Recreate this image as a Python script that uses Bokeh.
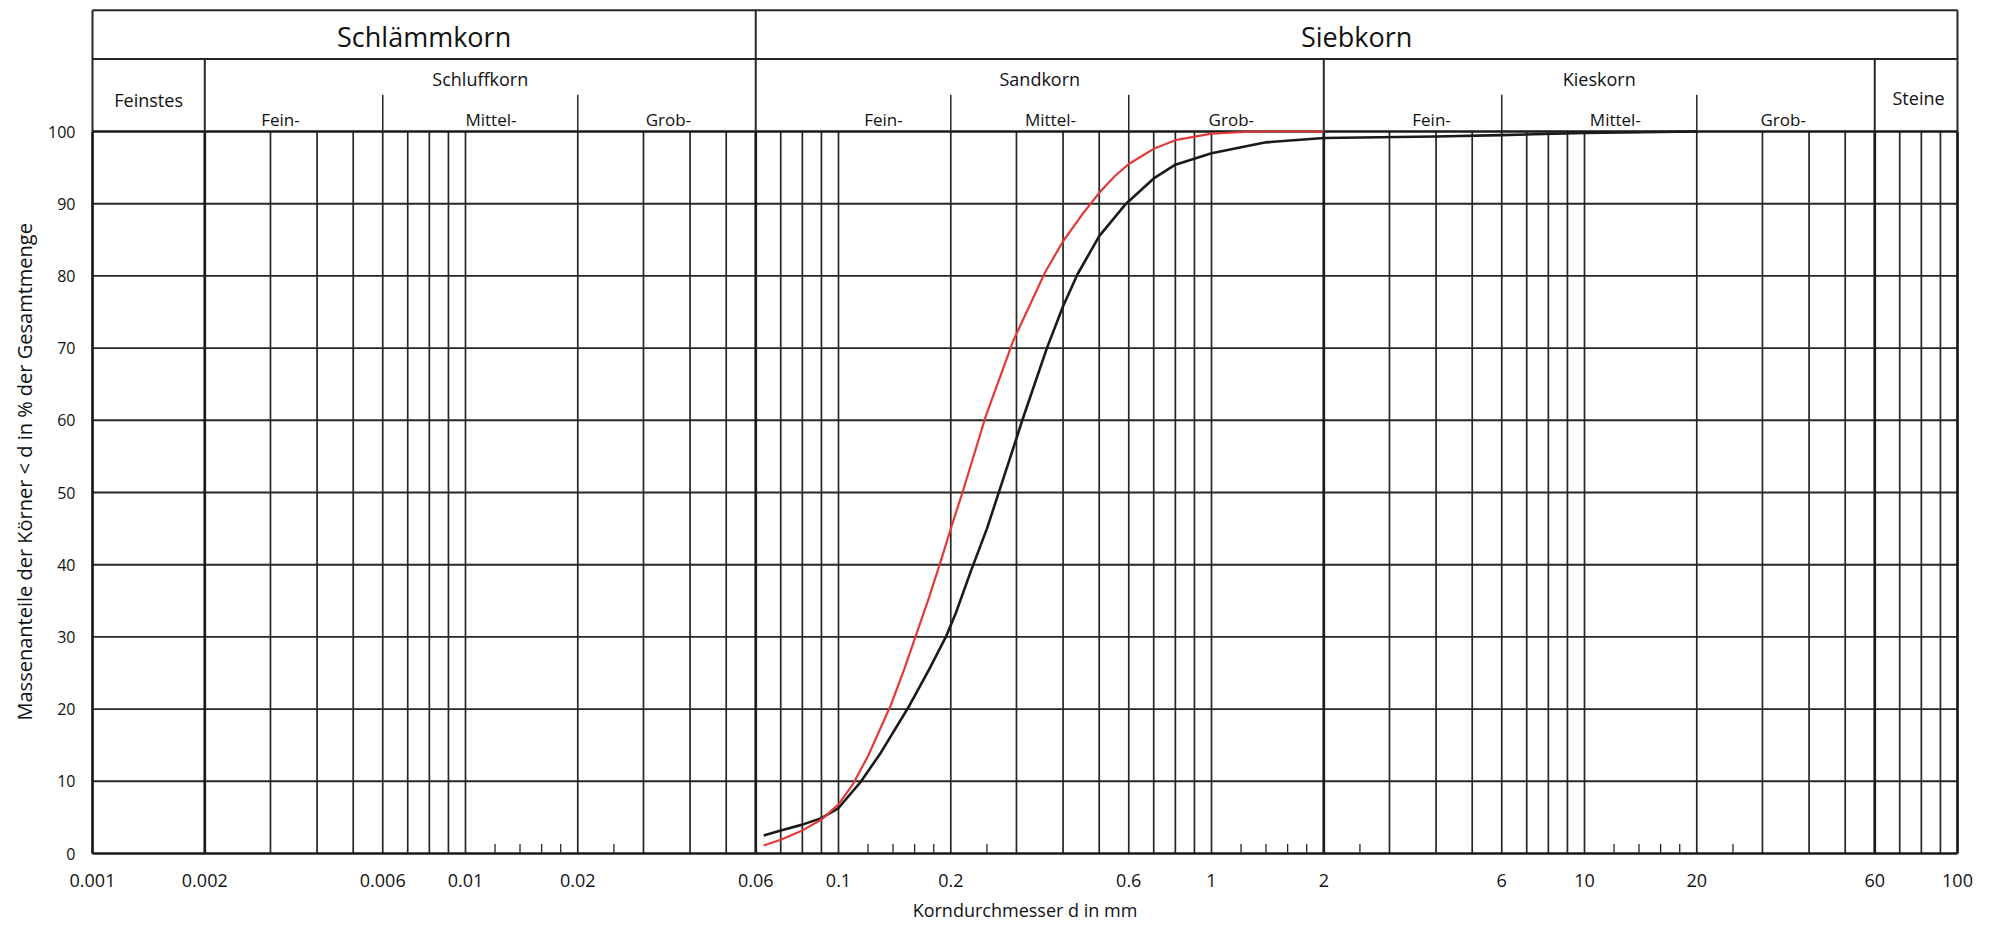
import numpy as np
from bokeh.plotting import figure
from bokeh.models import Range1d, FixedTicker, CustomJSTickFormatter, Title
from bokeh.core.properties import value
from bokeh.embed import file_html
from bokeh.resources import INLINE

# ---------------- data ----------------
d_black = [0.063, 0.07, 0.08, 0.09, 0.1, 0.115, 0.13, 0.155, 0.175, 0.194, 0.207, 0.226,
           0.25, 0.267, 0.3, 0.31, 0.362, 0.4, 0.438, 0.5, 0.59, 0.7, 0.8, 1.0, 1.4,
           2.0, 4.0, 6.0, 10.0, 20.0]
p_black = [2.5, 3.2, 4.0, 4.9, 6.3, 10.0, 14.0, 20.5, 25.5, 30.0, 33.5, 39.0,
           45.0, 49.5, 57.5, 59.8, 70.0, 75.8, 80.3, 85.5, 90.0, 93.5, 95.4, 97.0, 98.5,
           99.1, 99.3, 99.5, 99.8, 100.0]

d_red = [0.063, 0.07, 0.08, 0.09, 0.1, 0.109, 0.12, 0.138, 0.15, 0.162, 0.175, 0.188,
         0.2, 0.215, 0.248, 0.294, 0.358, 0.4, 0.45, 0.5, 0.55, 0.6, 0.7, 0.8, 1.0, 1.3, 2.0]
p_red = [1.1, 1.9, 3.2, 4.7, 6.8, 9.5, 13.5, 20.5, 25.5, 30.5, 35.5, 40.5,
         45.0, 50.0, 60.5, 71.0, 80.5, 84.8, 88.5, 91.5, 93.8, 95.5, 97.6, 98.8, 99.7, 100.0, 100.0]

x_ticks = [0.001, 0.002, 0.006, 0.01, 0.02, 0.06, 0.1, 0.2, 0.6, 1, 2, 6, 10, 20, 60, 100]
y_ticks = [0, 10, 20, 30, 40, 50, 60, 70, 80, 90, 100]

main_bounds = [0.001, 0.06, 100]
main_labels = ["Schlämmkorn", "Siebkorn"]
group_bounds = [0.001, 0.002, 0.06, 2, 60, 100]
group_labels = ["Feinstes", "Schluffkorn", "Sandkorn", "Kieskorn", "Steine"]
sub_bounds = [0.006, 0.02, 0.2, 0.6, 6, 20]
sub_labels = ["Fein-", "Mittel-", "Grob-", "Fein-", "Mittel-", "Grob-", "Fein-", "Mittel-", "Grob-"]
small_tick_mults = [1.2, 1.4, 1.6, 1.8, 2.5]
small_tick_decades = [0.01, 0.1, 1, 10]

x_title = "Korndurchmesser d in mm"
y_title = "Massenanteile der Körner < d in % der Gesamtmenge"

# ---------------- layout ----------------
FONT = "Open Sans"
PX_DEC = 373.0     # px per decade
PX_PCT = 7.22      # px per percent
MB_L, MB_R, MB_T, MB_B = 84, 10, 8, 66
FRAME_W = 5 * PX_DEC + 16
FRAME_H = 853
W = int(MB_L + FRAME_W + MB_R)
H = MB_T + FRAME_H + MB_B
pad_x = 8.0 / PX_DEC
y_lo = -8.0 / PX_PCT
y_hi = y_lo + FRAME_H / PX_PCT

Y_TOP = 116.8     # top line of header box
Y_DIV = 110.04    # divider between main and group header
Y_SUB = 105.1     # top of the small sub-dividers

p = figure(width=W, height=H, x_axis_type="log",
           x_range=Range1d(10 ** (-3 - pad_x), 10 ** (2 + pad_x)),
           y_range=Range1d(y_lo, y_hi),
           output_backend="svg", toolbar_location=None,
           min_border_left=MB_L, min_border_right=MB_R,
           min_border_top=MB_T, min_border_bottom=MB_B)
p.outline_line_color = None
p.xgrid.visible = False
p.ygrid.visible = False

LINE = "#262626"
BOLD = "#1a1a1a"

# vertical grid lines
bold_x = [0.001, 0.002, 0.06, 2, 60, 100]
thin_x = []
for e in range(-3, 2):
    for m in range(1, 10):
        v = float(f"{m}e{e}")
        if v <= 0.002:
            continue
        if any(abs(v - b) / b < 1e-9 for b in bold_x):
            continue
        thin_x.append(v)
p.segment(x0=thin_x, y0=0, x1=thin_x, y1=100, line_color=LINE, line_width=1.7)

# horizontal lines
p.segment(x0=0.001, y0=y_ticks[1:-1], x1=100, y1=y_ticks[1:-1], line_color=LINE, line_width=1.9)
p.segment(x0=0.001, y0=[0, 100], x1=100, y1=[0, 100], line_color=BOLD, line_width=2.7)
p.segment(x0=bold_x, y0=0, x1=bold_x, y1=100, line_color=BOLD, line_width=2.7)

# small ticks on the bottom line
st = [m * d for d in small_tick_decades for m in small_tick_mults]
p.segment(x0=st, y0=0, x1=st, y1=1.3, line_color=LINE, line_width=1.3)

# header box
p.segment(x0=0.001, y0=[Y_TOP, Y_DIV], x1=100, y1=[Y_TOP, Y_DIV], line_color=LINE, line_width=2.0)
p.segment(x0=main_bounds, y0=100, x1=main_bounds, y1=Y_TOP, line_color=LINE, line_width=2.0)
gb_inner = [0.002, 2, 60]
p.segment(x0=gb_inner, y0=100, x1=gb_inner, y1=Y_DIV, line_color=LINE, line_width=2.0)
p.segment(x0=sub_bounds, y0=100, x1=sub_bounds, y1=Y_SUB, line_color=LINE, line_width=1.5)

# header texts
gm = lambda a, b: float(np.sqrt(a * b))
main_x = [gm(main_bounds[i], main_bounds[i + 1]) for i in range(2)]
p.text(x=main_x, y=113.2, text=main_labels, text_font=value(FONT), text_font_size=value("27px"),
       text_align="center", text_baseline="middle", text_color="#111111")

group_x = [gm(group_bounds[i], group_bounds[i + 1]) for i in range(5)]
group_y = [104.4, 107.3, 107.3, 107.3, 104.7]
p.text(x=group_x[1:4], y=group_y[1:4], text=group_labels[1:4], text_font=value(FONT),
       text_font_size=value("18px"), text_align="center", text_baseline="middle", text_color="#111111")
p.text(x=[group_x[0], group_x[4] * 1.015], y=[group_y[0], group_y[4]], text=[group_labels[0], group_labels[4]],
       text_font=value(FONT), text_font_size=value("18px"), text_align="center",
       text_baseline="middle", text_color="#111111")

sub_x = [0.00319, 0.0117, 0.035, 0.132, 0.37, 1.13, 3.89, 12.1, 34.1]
p.text(x=sub_x, y=101.7, text=sub_labels, text_font=value(FONT), text_font_size=value("17px"),
       text_align="center", text_baseline="middle", text_color="#111111")

# curves
p.line(d_black, p_black, line_color="#1a1a1a", line_width=2.6, line_join="round")
p.line(d_red, p_red, line_color="#e23a3a", line_width=2.2, line_join="round")

# axes
xa = p.xaxis[0]
xa.ticker = FixedTicker(ticks=x_ticks)
xa.formatter = CustomJSTickFormatter(code="return String(tick);")
xa.axis_line_color = None
xa.major_tick_line_color = None
xa.minor_tick_line_color = None
xa.major_label_standoff = 6
xa.major_label_text_font = FONT
xa.major_label_text_font_size = "18px"
xa.major_label_text_color = "#111111"
xa.axis_label = x_title
xa.axis_label_text_font = FONT
xa.axis_label_text_font_size = "18px"
xa.axis_label_text_font_style = "normal"
xa.axis_label_text_color = "#111111"
xa.axis_label_standoff = 8

ya = p.yaxis[0]
ya.ticker = FixedTicker(ticks=y_ticks)
ya.axis_line_color = None
ya.major_tick_line_color = None
ya.minor_tick_line_color = None
ya.major_label_standoff = 3
ya.major_label_text_font = FONT
ya.major_label_text_font_size = "16px"
ya.major_label_text_color = "#111111"

# y-axis title: a side title, started at the same height as in the reference
p.add_layout(Title(text=y_title, align="left", offset=141, vertical_align="middle", standoff=14,
                   text_font=FONT, text_font_size="20px", text_font_style="normal",
                   text_color="#111111"), "left")

open("out.html", "w").write(file_html(p, INLINE))
